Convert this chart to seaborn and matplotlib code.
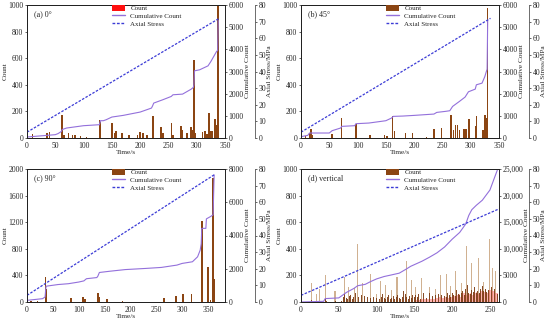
import numpy as np
import matplotlib
matplotlib.use("Agg")
import matplotlib.pyplot as plt
import seaborn as sns
from matplotlib.patches import Patch
from matplotlib.lines import Line2D
from matplotlib.ticker import FuncFormatter

sns.set_theme(style="white")
plt.rcParams['font.family'] = ['Liberation Serif', 'DejaVu Serif']
plt.rcParams['axes.linewidth'] = 0.6

# ---------------- data ----------------
# (a) 0 deg
a_t = [10, 35, 40, 62, 65, 73, 80, 85, 95, 105, 128, 130, 150, 155, 157, 168, 180, 195, 200, 205, 212,
       222, 223, 237, 240, 255, 258, 272, 275, 283, 290, 292, 295, 297, 310, 315, 318, 322, 325, 328, 332, 335, 338]
a_c = [30, 37, 45, 175, 20, 40, 20, 25, 15, 10, 137, 120, 112, 35, 50, 40, 20, 25, 45, 35, 20,
       100, 165, 85, 35, 115, 20, 90, 60, 40, 80, 60, 587, 40, 45, 50, 30, 190, 50, 55, 140, 100, 1000]
a_ct = [0, 50, 55, 61, 62, 70, 100, 128, 130, 135, 140, 150, 170, 200, 220, 222, 224, 240, 255, 258,
        275, 290, 294, 295, 296, 305, 320, 325, 335, 337, 338]
a_cv = [45, 150, 200, 300, 380, 450, 555, 600, 780, 780, 825, 945, 1020, 1170, 1350, 1450, 1575, 1725, 1875, 1950,
        1980, 2200, 2280, 2400, 3030, 3075, 3255, 3450, 3900, 3950, 5300]
a_st = [0, 340]
a_sv = [3.5, 72]

# (b) 45 deg
b_t = [8, 15, 18, 20, 55, 72, 97, 98, 122, 148, 152, 162, 165, 185, 197, 222, 235, 248, 265, 270,
       273, 277, 280, 288, 292, 297, 308, 310, 322, 325, 327, 330]
b_c = [15, 40, 65, 20, 30, 150, 105, 85, 25, 20, 15, 165, 50, 40, 40, 10, 65, 75, 175, 60,
       95, 100, 60, 70, 70, 140, 90, 165, 60, 175, 150, 980]
b_ct = [0, 12, 15, 50, 55, 70, 72, 95, 97, 120, 150, 160, 163, 180, 200, 235, 240, 255, 263, 268,
        280, 290, 296, 308, 310, 320, 325, 328, 329, 330]
b_cv = [60, 120, 225, 225, 330, 450, 525, 555, 645, 675, 780, 900, 975, 990, 1020, 1080, 1155, 1200, 1230, 1425,
        1650, 1845, 2085, 2205, 2400, 2475, 2775, 3030, 3100, 5300]
b_st = [0, 335]
b_sv = [3.5, 72]

# (c) 90 deg
c_t = [8, 20, 36, 38, 85, 108, 112, 137, 139, 155, 185, 265, 288, 302, 318, 338, 350, 355, 360, 362]
c_c = [20, 15, 370, 200, 65, 75, 40, 136, 70, 45, 15, 55, 85, 120, 120, 1220, 530, 30, 1860, 350]
c_ct = [0, 30, 35, 36, 37, 60, 80, 100, 110, 115, 135, 137, 140, 160, 190, 230, 260, 290, 300, 320,
        330, 335, 337, 338, 346, 347, 355, 360, 361, 362]
c_cv = [100, 200, 300, 700, 950, 1050, 1100, 1200, 1270, 1400, 1470, 1550, 1775, 1850, 1950, 2020, 2080, 2220, 2320, 2420,
        2720, 3120, 3500, 4430, 4430, 5000, 5140, 5240, 6500, 7650]
c_st = [0, 362]
c_sv = [4, 76.5]

# (d) vertical
d_st_spk = [14, 20, 24, 33, 45, 57, 63, 71, 75, 82, 92, 100, 105, 112, 120, 127, 139, 146, 152, 160,
            170, 178, 184, 192, 198, 205, 212, 219, 226, 235, 242, 250, 253, 257]
d_sc_spk = [140, 60, 100, 200, 80, 185, 115, 105, 435, 140, 210, 60, 155, 130, 90, 190, 305, 165, 110, 180,
            115, 100, 205, 210, 120, 230, 140, 420, 295, 330, 150, 470, 255, 230]
d_dt = list(range(0, 262, 2))
d_dc = [0, 0, 0, 0, 0, 0, 0, 15, 0, 0, 5, 0, 0, 0, 0, 0, 25, 10, 0, 0, 0, 0, 0, 5, 0, 0, 0, 10,
        40, 60, 30, 20, 45, 55, 25, 35, 70, 90, 40, 30, 50, 25, 45, 20, 35, 60, 30, 75, 40, 25, 30,
        45, 20, 35, 60, 30, 25, 40, 55, 20, 30, 45, 25, 35, 50, 30, 20, 40, 85, 60, 35, 25, 45, 30, 55, 40,
        50, 35, 60, 25, 45, 70, 40, 30, 55, 65, 35, 45, 75, 50, 30, 60, 40, 55, 80, 45, 35, 65, 50, 40, 70,
        55, 45, 90, 60, 50,
        65, 80, 55, 100, 130, 70, 60, 90, 75, 110, 65, 85, 70, 95, 120, 80, 100, 75, 90, 130, 110, 85, 95, 70, 60]
d_rt = list(range(150, 262, 2))
d_rc = [10, 15, 20, 12, 18, 25, 15, 20, 30, 22, 18, 25, 35, 20, 28, 30, 25, 35, 40, 30,
        25, 38, 45, 30, 35, 40, 50, 45, 35, 55, 60, 40, 50, 65, 55, 45, 60, 70, 55, 50,
        65, 75, 60, 70, 80, 65, 75, 85, 70, 80, 90, 75, 85, 80, 70, 65]
d_ct = [0, 30, 32, 50, 55, 60, 70, 75, 85, 92, 100, 110, 120, 130, 140, 145, 160, 170, 180, 190,
        200, 210, 218, 222, 226, 232, 240, 245, 250, 255, 260]
d_cv = [0, 130, 640, 770, 1280, 1790, 2550, 3060, 3320, 3830, 4340, 4790, 5100, 5420, 6250, 6700, 7660, 8420, 9250, 10340,
        11800, 13080, 14670, 16270, 17350, 18180, 19140, 20100, 21050, 22970, 24880]
d_st = [0, 262]
d_sv = [4, 56]

# ---------------- style ----------------
BROWN = '#8B4513'
PURPLE = '#9370DB'
BLUE = '#3B3BD6'
TICK = 5.5
LAB = 5.2
LEG = 5

fig = plt.figure(figsize=(5.5, 3.21), dpi=100)
W = 198 / 550
H = 133 / 321


def style_ax(ax):
    ax.tick_params(labelsize=TICK, length=1.6, width=0.5, pad=1.0, direction='out')
    for s in ax.spines.values():
        s.set_linewidth(0.6)
        s.set_color('#222222')


def make_panel(rect, title, xlim, xticks, ylim, yticks, clim, cticks, cfmt, legcolor):
    ax = fig.add_axes(rect)
    ax2 = ax.twinx()
    ax3 = ax.twinx()
    ax3.spines['right'].set_position(('outward', 21.6))
    for a in (ax, ax2, ax3):
        style_ax(a)
        a.grid(False)
    ax.set_xlim(*xlim)
    ax.set_xticks(xticks)
    ax.set_ylim(*ylim)
    ax.set_yticks(yticks)
    ax2.set_ylim(*clim)
    ax2.set_yticks(cticks)
    if cfmt is not None:
        ax2.yaxis.set_major_formatter(cfmt)
    ax3.set_ylim(0, 80)
    ax3.set_yticks(range(0, 81, 10))
    ax3.spines['right'].set_color('#555555')
    ax.set_xlabel('Time/s', fontsize=LAB, labelpad=0)
    ax.set_ylabel('Count', fontsize=LAB, labelpad=0.5)
    ax2.set_ylabel('Cumulative Count', fontsize=LAB, labelpad=0.8)
    ax3.set_ylabel('Axial Stress/MPa', fontsize=LAB, labelpad=0.5)
    ax.text(0.035, 0.96, title, transform=ax.transAxes, fontsize=LAB + 0.6, va='top', ha='left')
    handles = [Patch(facecolor=legcolor, edgecolor='none'),
               Line2D([0], [0], color=PURPLE, lw=1.0),
               Line2D([0], [0], color=BLUE, lw=1.0, ls=(0, (2, 1.2)))]
    ax3.legend(handles, ['Count', 'Cumulative Count', 'Axial Stress'], loc='upper left',
               bbox_to_anchor=(0.41, 1.03), frameon=False, fontsize=LEG, handlelength=1.8,
               handleheight=0.9, handletextpad=0.8, labelspacing=0.2, borderaxespad=0.2)
    return ax, ax2, ax3


# (a)
ax, ax2, ax3 = make_panel([27 / 550, 1 - 138 / 321, W, H], '(a) 0°', (0, 350), range(0, 351, 50),
                          (0, 1000), range(0, 1001, 200), (0, 6000), range(0, 6001, 1000), None, '#FF1010')
ax.bar(a_t, a_c, width=2.6, color=BROWN, linewidth=0)
sns.lineplot(x=a_ct, y=a_cv, ax=ax2, color=PURPLE, lw=0.8, estimator=None, sort=False)
sns.lineplot(x=a_st, y=a_sv, ax=ax3, color=BLUE, lw=0.9, ls=(0, (2, 1.2)), estimator=None, sort=False)

# (b)
ax, ax2, ax3 = make_panel([301 / 550, 1 - 138 / 321, W, H], '(b) 45°', (0, 350), range(0, 351, 50),
                          (0, 1000), range(0, 1001, 200), (0, 6000), range(0, 6001, 1000), None, BROWN)
ax.bar(b_t, b_c, width=2.6, color=BROWN, linewidth=0)
sns.lineplot(x=b_ct, y=b_cv, ax=ax2, color=PURPLE, lw=0.8, estimator=None, sort=False)
sns.lineplot(x=b_st, y=b_sv, ax=ax3, color=BLUE, lw=0.9, ls=(0, (2, 1.2)), estimator=None, sort=False)

# (c)
ax, ax2, ax3 = make_panel([27 / 550, 1 - 302 / 321, W, H], '(c) 90°', (0, 383), range(0, 351, 50),
                          (0, 2000), range(0, 2001, 400), (0, 8000), range(0, 8001, 2000), None, BROWN)
ax.bar(c_t, c_c, width=3.0, color=BROWN, linewidth=0)
sns.lineplot(x=c_ct, y=c_cv, ax=ax2, color=PURPLE, lw=0.8, estimator=None, sort=False)
sns.lineplot(x=c_st, y=c_sv, ax=ax3, color=BLUE, lw=0.9, ls=(0, (2, 1.2)), estimator=None, sort=False)

# (d)
fmt = FuncFormatter(lambda v, p: f'{int(v):,}' if v >= 10000 else f'{int(v)}')
ax, ax2, ax3 = make_panel([301 / 550, 1 - 302 / 321, W, H], '(d) vertical', (0, 262), range(0, 251, 50),
                          (0, 1000), range(0, 1001, 200), (0, 25000), range(0, 25001, 5000), fmt, BROWN)
ax.bar(d_st_spk, d_sc_spk, width=1.4, color='#C8A47E', alpha=0.85, linewidth=0)
ax.bar(d_rt, d_rc, width=2.0, color='#FF5A5A', alpha=0.45, linewidth=0)
ax.bar(d_dt, d_dc, width=1.1, color='#7B3A12', alpha=0.9, linewidth=0)
sns.lineplot(x=d_ct, y=d_cv, ax=ax2, color=PURPLE, lw=0.8, estimator=None, sort=False)
sns.lineplot(x=d_st, y=d_sv, ax=ax3, color=BLUE, lw=0.9, ls=(0, (2, 1.2)), estimator=None, sort=False)

fig.savefig('out.png', dpi=100)
